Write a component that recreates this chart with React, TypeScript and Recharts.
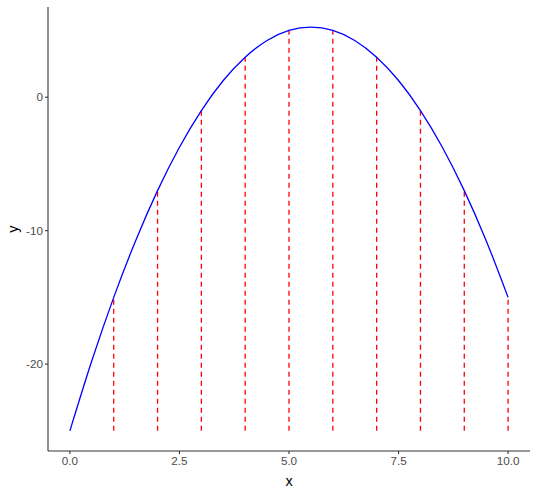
import React from 'react';
import {
  ComposedChart,
  Line,
  XAxis,
  YAxis,
  ReferenceLine,
  Label,
} from 'recharts';

// curve
const curveX = [0, 0.5, 1, 1.5, 2, 2.5, 3, 3.5, 4, 4.5, 5, 5.5, 6, 6.5, 7, 7.5, 8, 8.5, 9, 9.5, 10];
const curveY = [-25, -19.75, -15, -10.75, -7, -3.75, -1, 1.25, 3, 4.25, 5, 5.25, 5, 4.25, 3, 1.25, -1, -3.75, -7, -10.75, -15];

// red dashed drops
const dropX = [1, 2, 3, 4, 5, 6, 7, 8, 9, 10];
const dropTop = [-15, -7, -1, 3, 5, 5, 3, -1, -7, -15];
const dropBase = -25;

const xTicks = [0, 2.5, 5, 7.5, 10];
const yTicks = [-20, -10, 0];

const data = curveX.map((x, i) => ({ x, y: curveY[i] }));

const axisColor = '#333333';
const font = 'Liberation Sans, Arial, sans-serif';
const tickText = { fill: '#4d4d4d', fontSize: 11.7, fontFamily: font };

export default function App() {
  return (
    <div style={{ position: 'absolute', left: 0, top: 0, width: 538, height: 493, background: '#fff' }}>
      <ComposedChart
        width={538}
        height={493}
        data={data}
        margin={{ top: 7, right: 8, bottom: 0, left: 0 }}
      >
        <XAxis
          dataKey="x"
          type="number"
          domain={[-0.5, 10.5]}
          ticks={xTicks}
          tickFormatter={(v: number) => v.toFixed(1)}
          stroke={axisColor}
          strokeWidth={1.1}
          tickSize={3}
          tickMargin={3}
          tick={tickText}
          height={42}
          allowDataOverflow
        >
          <Label
            value="x"
            position="insideBottom"
            offset={7}
            style={{ fill: '#000', fontSize: 14.5, fontFamily: font }}
          />
        </XAxis>
        <YAxis
          type="number"
          domain={[-26.51, 6.76]}
          ticks={yTicks}
          stroke={axisColor}
          strokeWidth={1.1}
          tickSize={3}
          tick={tickText}
          width={48}
          allowDataOverflow
        >
          <Label
            value="y"
            angle={-90}
            position="insideLeft"
            offset={13}
            style={{ fill: '#000', fontSize: 14.5, fontFamily: font, textAnchor: 'middle' }}
          />
        </YAxis>
        {dropX.map((x, i) => (
          <ReferenceLine
            key={x}
            segment={[
              { x, y: dropBase },
              { x, y: dropTop[i] },
            ]}
            stroke="#ff0000"
            strokeWidth={1.3}
            strokeDasharray="5 4"
          />
        ))}
        <Line
          type="monotone"
          dataKey="y"
          stroke="#0000ff"
          strokeWidth={1.3}
          dot={false}
          activeDot={false}
          isAnimationActive={false}
        />
      </ComposedChart>
    </div>
  );
}
